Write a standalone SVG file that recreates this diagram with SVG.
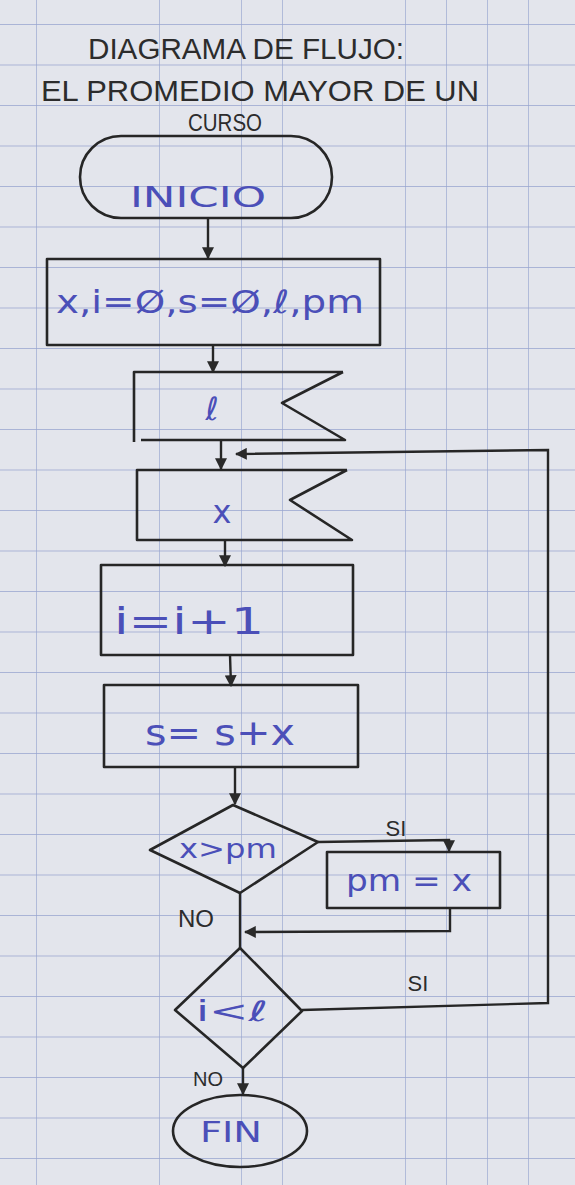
<svg xmlns="http://www.w3.org/2000/svg" width="575" height="1185" viewBox="0 0 575 1185">
  <defs>
    <pattern id="grid" x="36" y="24" width="41" height="40.5" patternUnits="userSpaceOnUse">
      <path d="M0 0 H41 M0 0 V40.5" fill="none" stroke="#97a4cf" stroke-width="1.3"/>
    </pattern>
    <marker id="arr" viewBox="0 0 10 10" refX="9" refY="5" markerWidth="5" markerHeight="5" orient="auto">
      <path d="M0 0 L10 5 L0 10 Z" fill="#2a2a2a"/>
    </marker>
    <style>
      .shape { fill: none; stroke: #262626; stroke-width: 2.6; stroke-linejoin: round; }
      .conn { fill: none; stroke: #262626; stroke-width: 2.4; }
      .title { font-family: "Liberation Sans", "DejaVu Sans", sans-serif; fill: #2c2c2c; text-anchor: middle; }
      .blue { font-family: "DejaVu Sans", "Liberation Sans", sans-serif; fill: #4b4fb8; text-anchor: middle; }
      .lab { font-family: "Liberation Sans", "DejaVu Sans", sans-serif; fill: #2c2c2c; text-anchor: middle; }
    </style>
  </defs>

  <rect x="0" y="0" width="575" height="1185" fill="#e3e5ec"/>
  <rect x="0" y="0" width="575" height="1185" fill="url(#grid)"/>

  <g id="title">
    <text class="title" x="246" y="59" font-size="30" textLength="316" lengthAdjust="spacingAndGlyphs">DIAGRAMA DE FLUJO:</text>
    <text class="title" x="260" y="101" font-size="30" textLength="438" lengthAdjust="spacingAndGlyphs">EL PROMEDIO MAYOR DE UN</text>
    <text class="title" x="225" y="131" font-size="24" textLength="74" lengthAdjust="spacingAndGlyphs">CURSO</text>
  </g>

  <g id="connectors">
    <line class="conn" x1="208" y1="218" x2="208" y2="258" marker-end="url(#arr)"/>
    <line class="conn" x1="213" y1="345" x2="213" y2="372" marker-end="url(#arr)"/>
    <line class="conn" x1="221" y1="440" x2="221" y2="469" marker-end="url(#arr)"/>
    <line class="conn" x1="225" y1="540" x2="225" y2="566" marker-end="url(#arr)"/>
    <line class="conn" x1="230" y1="655" x2="231" y2="686" marker-end="url(#arr)"/>
    <line class="conn" x1="235" y1="767" x2="235" y2="804" marker-end="url(#arr)"/>
    <polyline class="conn" points="318,842 449,840 449,851" marker-end="url(#arr)"/>
    <polyline class="conn" points="450,908 450,931 245,932" marker-end="url(#arr)"/>
    <line class="conn" x1="240" y1="893" x2="240" y2="948"/>
    <polyline class="conn" points="302,1010 548,1003 548,450 236,454" marker-end="url(#arr)"/>
    <line class="conn" x1="243" y1="1068" x2="243" y2="1094" marker-end="url(#arr)"/>
    <text class="lab" x="396" y="836" font-size="22">SI</text>
    <text class="lab" x="196" y="927" font-size="24">NO</text>
    <text class="lab" x="418" y="991" font-size="22">SI</text>
    <text class="lab" x="208" y="1086" font-size="20">NO</text>
  </g>

  <g id="inicio">
    <rect class="shape" x="80" y="136" width="252" height="82" rx="41"/>
    <text class="blue" x="198" y="207" font-size="28" textLength="136" lengthAdjust="spacingAndGlyphs">INICIO</text>
  </g>

  <g id="init">
    <rect class="shape" x="47" y="259" width="333" height="86"/>
    <text class="blue" x="210" y="313" font-size="32" textLength="308" lengthAdjust="spacingAndGlyphs">x,i=Ø,s=Ø,ℓ,pm</text>
  </g>

  <g id="read-l">
    <path class="shape" d="M343 372 H134 V442 M141 440 H345 L282 403 L343 372"/>
    <text class="blue" x="212" y="420" font-size="32">ℓ</text>
  </g>

  <g id="read-x">
    <path class="shape" d="M347 470 H137 V540 H352 L290 500 L347 470"/>
    <text class="blue" x="222" y="523" font-size="32">x</text>
  </g>

  <g id="inc-i">
    <rect class="shape" x="101" y="565" width="252" height="90"/>
    <text class="blue" x="189" y="634" font-size="38" textLength="150" lengthAdjust="spacingAndGlyphs">i=i+1</text>
  </g>

  <g id="sum">
    <rect class="shape" x="104" y="685" width="254" height="82"/>
    <text class="blue" x="220" y="745" font-size="36" textLength="150" lengthAdjust="spacingAndGlyphs">s= s+x</text>
  </g>

  <g id="cond-pm">
    <polygon class="shape" points="233,805 318,842 240,893 150,850"/>
    <text class="blue" x="228" y="858" font-size="27" textLength="98" lengthAdjust="spacingAndGlyphs">x&gt;pm</text>
  </g>

  <g id="set-pm">
    <rect class="shape" x="327" y="852" width="173" height="56"/>
    <text class="blue" x="409" y="891" font-size="30" textLength="126" lengthAdjust="spacingAndGlyphs">pm = x</text>
  </g>

  <g id="cond-i">
    <polygon class="shape" points="240,948 302,1011 243,1068 175,1010"/>
    <text class="blue" x="232" y="1021" font-size="28" textLength="72" lengthAdjust="spacingAndGlyphs">i&lt;ℓ</text>
  </g>

  <g id="fin">
    <ellipse class="shape" cx="240" cy="1131" rx="67" ry="36"/>
    <text class="blue" x="231" y="1142" font-size="28" textLength="62" lengthAdjust="spacingAndGlyphs">FIN</text>
  </g>
</svg>
